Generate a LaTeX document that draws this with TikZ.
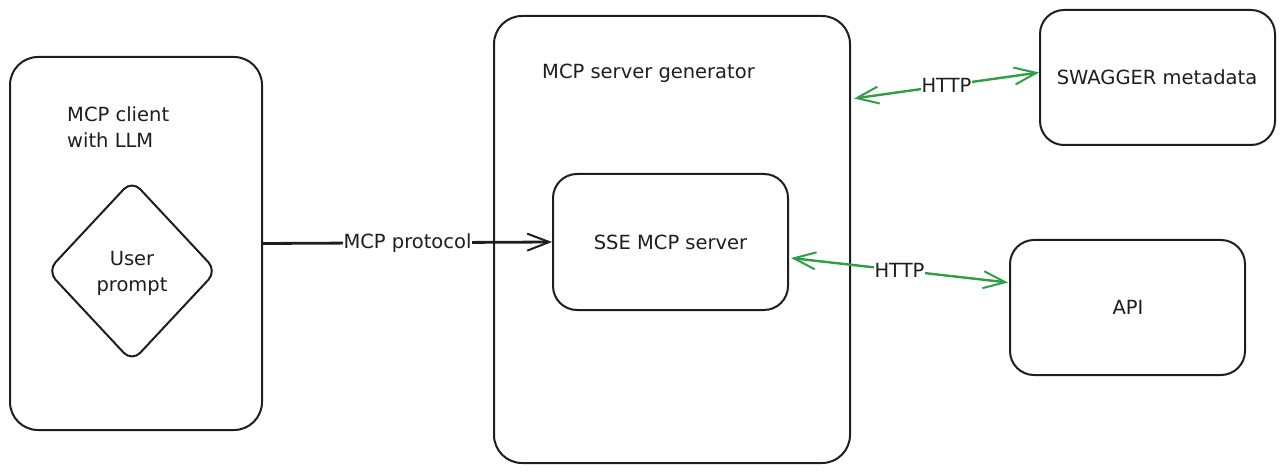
\documentclass[tikz,border=0pt]{standalone}
\usepackage{fontspec}
\setmainfont{DejaVu Sans}
\usetikzlibrary{arrows.meta,shapes.geometric,calc}
\definecolor{ink}{HTML}{1E1E1E}
\definecolor{grn}{HTML}{2F9E44}
\begin{document}
\begin{tikzpicture}[x=1pt,y=-1pt,
  box/.style={draw=ink,line width=2pt,rounded corners=28pt,inner sep=0pt},
  txt/.style={font=\fontsize{19.5}{26}\selectfont,text=ink,inner sep=0pt},
  barb/.tip={Straight Barb[length=22pt,width=17pt,line width=2pt]},
  conn/.style={line width=2.8pt,draw=ink,-barb},
  web/.style={line width=2.4pt,draw=grn,barb-barb},
  lbl/.style={txt,fill=white,inner sep=1pt}]
\useasboundingbox (0,0) rectangle (1285,473);
% boxes
\node[box,minimum width=252pt,minimum height=373pt] (client) at (136,243.5) {};
\node[box,minimum width=356pt,minimum height=447pt] (gen) at (672,239.5) {};
\node[box,rounded corners=24pt,minimum width=235pt,minimum height=136pt] (sse) at (670.5,242) {};
\node[box,rounded corners=24pt,minimum width=235pt,minimum height=135pt] (sw) at (1157.5,77.5) {};
\node[box,rounded corners=24pt,minimum width=235pt,minimum height=135pt] (api) at (1127.5,307.5) {};
\node[draw=ink,line width=2pt,diamond,rounded corners=12pt,minimum width=170pt,minimum height=182pt,inner sep=0pt] (up) at (132,271) {};
% texts
\node[txt,align=left,anchor=north west] (clientlbl) at (67,106) {MCP client\\with LLM};
\node[txt,align=center] (uplbl) at ($(up)+(0,2)$) {User\\prompt};
\node[txt,anchor=west] (genlbl) at (542,73) {MCP server generator};
\node[txt] (sselbl) at (sse) {SSE MCP server};
\node[txt] (swlbl) at (1157,77) {SWAGGER metadata};
\node[txt] (apilbl) at (1128,307) {API};
% connectors
\draw[conn] (client.east) -- node[lbl] {MCP protocol} (sse.west);
\coordinate (g1) at ($(gen.east)+(3,-141)$);
\coordinate (s1) at ($(sw.west)+(0,-5)$);
\draw[web] (g1) -- node[lbl,pos=0.5] {HTTP} (s1);
\coordinate (g2) at ($(sse.east)+(2,16)$);
\coordinate (a2) at ($(api.west)+(-1,-25)$);
\draw[web] (g2) -- node[lbl,pos=0.5] {HTTP} (a2);
\end{tikzpicture}
\end{document}
